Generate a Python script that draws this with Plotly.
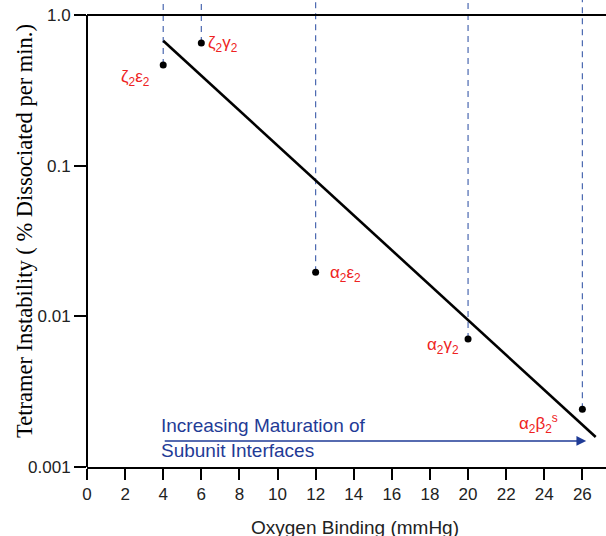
import plotly.graph_objects as go
import math

# ---- data ----
x_points = [4, 6, 12, 20, 26]
y_points = [0.466, 0.652, 0.0196, 0.00708, 0.00242]
point_labels = ["ζ<sub>2</sub>ε<sub>2</sub>", "ζ<sub>2</sub>γ<sub>2</sub>",
                "α<sub>2</sub>ε<sub>2</sub>", "α<sub>2</sub>γ<sub>2</sub>",
                "α<sub>2</sub>β<sub>2</sub><sup>s</sup>"]
fit_x = [4, 26.7]
fit_y = [0.675, 0.00158]
x_ticks = list(range(0, 27, 2))
y_ticks = [0.001, 0.01, 0.1, 1.0]
y_ticktext = ["0.001", "0.01", "0.1", "1.0"]
arrow_x = [4, 26.2]
arrow_y = 0.00149
arrow_text = ["Increasing Maturation of", "Subunit Interfaces"]
arrow_text_y = [0.00188, 0.00128]

X_RANGE = [0, 27.24]
Y_RANGE = [-3, 0.0996]
TOP = 10 ** Y_RANGE[1]

DASH_COLOR = "#4a68b0"
RED = "#ee2222"
BLUE = "#1f3b96"

fig = go.Figure()

# dashed drop lines from top to each point
for xv, yv in zip(x_points, y_points):
    fig.add_trace(go.Scatter(x=[xv, xv], y=[yv, TOP], mode="lines",
                             line=dict(color=DASH_COLOR, width=1.2, dash="6px,5px"),
                             hoverinfo="skip", showlegend=False))

# fit line
fig.add_trace(go.Scatter(x=fit_x, y=fit_y, mode="lines",
                         line=dict(color="black", width=2.6),
                         showlegend=False))

# points
fig.add_trace(go.Scatter(x=x_points, y=y_points, mode="markers",
                         marker=dict(color="black", size=7),
                         showlegend=False, cliponaxis=False))

annotations = []
label_pos = [
    dict(xanchor="right", xshift=-11, yshift=-13),
    dict(xanchor="left", xshift=5, yshift=-1),
    dict(xanchor="left", xshift=12, yshift=-2),
    dict(xanchor="right", xshift=-7, yshift=-7),
    dict(xanchor="right", xshift=-22, yshift=-14),
]
for xv, yv, lab, pos in zip(x_points, y_points, point_labels, label_pos):
    annotations.append(dict(x=xv, y=math.log10(yv), xref="x", yref="y",
                            text=lab, showarrow=False, yanchor="middle",
                            font=dict(family="Liberation Sans, Arial", size=17, color=RED),
                            **pos))

# arrow
annotations.append(dict(x=arrow_x[1], y=math.log10(arrow_y), ax=arrow_x[0], ay=math.log10(arrow_y),
                        xref="x", yref="y", axref="x", ayref="y", text="",
                        showarrow=True, arrowhead=2, arrowsize=1.3, arrowwidth=1.5,
                        arrowcolor=BLUE))
for t, ty in zip(arrow_text, arrow_text_y):
    annotations.append(dict(x=arrow_x[0], y=math.log10(ty), xref="x", yref="y",
                            text=t, showarrow=False, xanchor="left", yanchor="middle",
                            xshift=-4,
                            font=dict(family="Liberation Sans, Arial", size=19, color=BLUE)))

# axis titles
annotations.append(dict(x=(25 - 87) / 519, y=(467 - 231) / 467, xref="paper", yref="paper",
                        text="Tetramer Instability ( % Dissociated per min.)",
                        textangle=-90, showarrow=False, xanchor="center", yanchor="middle",
                        font=dict(family="Liberation Serif, Times New Roman", size=22.5, color="black")))
annotations.append(dict(x=(355 - 87) / 519, y=(467 - 527) / 467, xref="paper", yref="paper",
                        text="Oxygen Binding (mmHg)", showarrow=False,
                        xanchor="center", yanchor="middle",
                        font=dict(family="Liberation Sans, Arial", size=19, color="#222")))

one_frac = (0 - Y_RANGE[0]) / (Y_RANGE[1] - Y_RANGE[0])
shapes = [
    dict(type="line", xref="paper", yref="paper", x0=0, x1=0, y0=0, y1=one_frac,
         line=dict(color="black", width=2)),
    dict(type="line", xref="paper", yref="paper", x0=0, x1=1.01, y0=one_frac, y1=one_frac,
         line=dict(color="black", width=2)),
]

fig.update_layout(
    width=606, height=536,
    margin=dict(l=87, r=0, t=0, b=69, autoexpand=False),
    plot_bgcolor="white", paper_bgcolor="white",
    annotations=annotations, shapes=shapes,
    showlegend=False,
    xaxis=dict(range=X_RANGE, tickvals=x_ticks, ticks="outside", ticklen=11, tickwidth=2,
               tickcolor="black", showline=True, linecolor="black", linewidth=2,
               showgrid=False, zeroline=False, automargin=False,
               tickfont=dict(family="Liberation Sans, Arial", size=17, color="#222")),
    yaxis=dict(type="log", range=Y_RANGE, tickvals=y_ticks, ticktext=y_ticktext,
               ticks="outside", ticklen=12, tickwidth=2, tickcolor="black",
               showline=False, showgrid=False, zeroline=False, automargin=False,
               tickfont=dict(family="Liberation Sans, Arial", size=17, color="#222")),
)

fig.write_html("out.html", config={"displayModeBar": False},
               post_script="document.body.style.margin='0';")
